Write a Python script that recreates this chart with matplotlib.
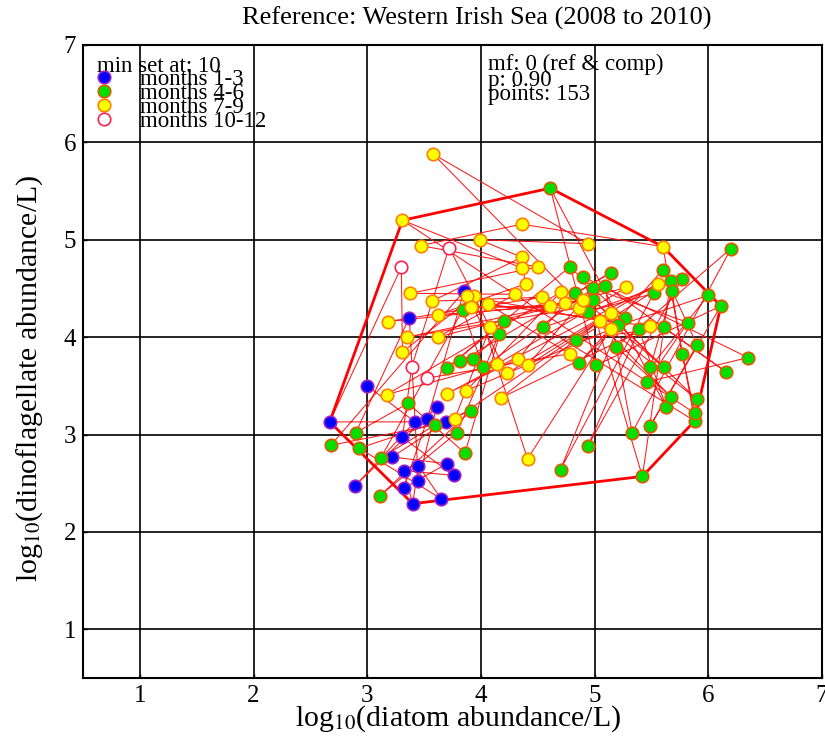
import numpy as np
import matplotlib
matplotlib.use("Agg")
import matplotlib.pyplot as plt

plt.rcParams['font.family'] = ['Liberation Serif', 'DejaVu Serif']
plt.rcParams['mathtext.fontset'] = 'stix'

# ---- data: log10 abundances in sampling order (2008 -> 2010) ----
diatom = [
    # 2008 months 1-3
    3.00, 3.42, 2.89, 3.61, 3.45, 3.37,
    # 2008 months 4-6
    2.90, 3.36, 3.86, 4.20, 3.70, 4.78, 5.27, 4.86, 5.60, 5.90, 5.49, 6.11, 5.01, 4.61,
    5.63, 5.39, 4.94, 5.77, 4.55, 5.88,
    # 2008 months 7-9
    5.60, 4.36, 3.47, 4.50, 3.38, 4.30, 3.62, 5.28, 4.14, 3.17, 4.70, 3.87, 5.14, 4.41, 3.94, 3.31,
    # 2008 months 10-12
    3.30,
    # 2009 months 1-3
    2.67, 3.69, 3.22, 3.70, 3.32, 3.53, 3.85,
    # 2009 months 4-6
    2.68, 3.60, 3.12, 3.84, 4.02, 4.99, 5.82, 5.46, 6.35, 4.90, 5.42, 5.67, 4.84, 5.61,
    6.16, 5.09, 5.33, 6.20, 5.19, 5.67,
    # 2009 months 7-9
    3.58, 4.94, 3.99, 4.36, 3.57, 4.54, 3.18, 4.74, 4.33, 3.70, 5.56, 4.23, 3.88, 5.05, 3.77, 4.08,
    # 2009 months 10-12
    3.72, 3.39,
    # 2010 months 1-3
    3.31, 3.76, 3.32, 3.40, 3.45, 3.65,
    # 2010 months 4-6
    2.93, 3.91, 3.11, 3.79, 4.16, 3.93, 3.82, 5.14, 4.83, 5.61, 4.99, 5.90, 4.94, 5.52,
    4.70, 5.21, 6.00, 5.49, 5.68, 5.77, 5.88,
    # 2010 months 7-9
    3.31, 4.36, 4.40, 3.62, 4.61, 3.91, 4.86, 3.35, 4.90, 4.41, 5.14, 4.18, 5.49, 4.06, 4.78,
    # 2010 months 10-12
    3.53,
]
dino = [
    # 2008 months 1-3
    3.50, 3.13, 2.47, 3.28, 2.52, 4.20,
    # 2008 months 4-6
    3.02, 3.32, 2.81, 4.17, 3.68, 4.72, 4.20, 3.73, 4.69, 3.92, 3.09, 4.32, 3.71, 5.53,
    3.28, 4.08, 2.88, 4.60, 4.10, 3.14,
    # 2008 months 7-9
    4.93, 5.16, 4.94, 4.72, 4.45, 4.44, 4.00, 4.51, 3.72, 3.41, 4.46, 3.45, 4.08, 2.75, 4.42, 3.85,
    # 2008 months 10-12
    4.72,
    # 2009 months 1-3
    3.13, 3.13, 2.77, 2.70, 2.45, 3.16, 4.47,
    # 2009 months 4-6
    2.89, 3.10, 2.76, 4.28, 3.69, 4.50, 4.15, 3.54, 3.79, 4.62, 2.57, 4.58, 3.97, 4.10,
    3.64, 4.53, 3.02, 4.91, 3.90, 3.39,
    # 2009 months 7-9
    5.88, 4.96, 5.00, 4.82, 4.37, 4.41, 4.16, 4.35, 3.78, 3.42, 4.55, 3.63, 4.42, 4.17, 3.16, 4.10,
    # 2009 months 10-12
    4.92, 3.69,
    # 2010 months 1-3
    2.97, 2.58, 2.63, 2.29, 2.68, 2.34,
    # 2010 months 4-6
    2.86, 3.24, 2.37, 3.02, 4.03, 3.78, 3.75, 4.66, 4.45, 3.69, 4.38, 3.36, 4.26, 4.45,
    2.64, 4.12, 4.43, 3.69, 4.47, 3.83, 3.22,
    # 2010 months 7-9
    5.20, 4.71, 4.55, 4.23, 4.32, 4.31, 4.30, 4.00, 4.38, 3.71, 4.25, 3.38, 4.11, 4.34, 3.83,
    # 2010 months 10-12
    3.58,
]
block_sizes = [6, 20, 16, 1, 7, 20, 16, 2, 6, 21, 15, 1]
block_group = [0, 1, 2, 3, 0, 1, 2, 3, 0, 1, 2, 3]
group_labels = ['months 1-3', 'months 4-6', 'months 7-9', 'months 10-12']

# 90% hull vertices
hull_x = [2.67, 3.31, 4.61, 5.60, 6.11, 5.88, 5.42, 3.40]
hull_y = [3.13, 5.20, 5.53, 4.93, 4.32, 3.14, 2.57, 2.29]

title = 'Reference: Western Irish Sea (2008 to 2010)'
info_lines = ['mf: 0 (ref & comp)', 'p: 0.90', 'points: 153']
ticks = [1, 2, 3, 4, 5, 6, 7]

# ---- figure ----
x = np.array(diatom)
y = np.array(dino)
season = np.repeat(block_group, block_sizes)

fig = plt.figure(figsize=(8.25, 7.4), dpi=100)
ax = fig.add_axes([83/825, 1-678/740, 739/825, 633/740])

ax.plot(x, y, color='#ff1a1a', lw=0.75, zorder=2)
ax.plot(hull_x + hull_x[:1], hull_y + hull_y[:1], color='#ff0000', lw=2.0, zorder=3)

styles = [dict(mfc='#0000ff', mec='#a020c0'),
          dict(mfc='#00e000', mec='#e05a00'),
          dict(mfc='#ffff00', mec='#ff8000'),
          dict(mfc='white', mec='#ff2050')]
handles = []
for g in range(4):
    m = season == g
    h, = ax.plot(x[m], y[m], ls='none', marker='o', ms=9, mew=1.2,
                 zorder=4, label=group_labels[g], **styles[g])
    handles.append(h)

ax.set_xlim(0.5, 7)
ax.set_ylim(0.5, 7)
ax.set_xticks(ticks)
ax.set_yticks(ticks)
ax.grid(True, color='black', lw=1.2)
ax.set_axisbelow(True)
for s in ax.spines.values():
    s.set_linewidth(1.5)
ax.tick_params(direction='in', length=3, width=1, labelsize=18, pad=5)

leg = ax.legend(handles=handles, loc='upper left', bbox_to_anchor=(0.019, 0.983),
                frameon=False, title='min set at: 10', alignment='left',
                borderpad=0, borderaxespad=0, handlelength=0.6, handletextpad=1.28,
                labelspacing=-0.32, fontsize=16.5, title_fontsize=16.5)

for i, t in enumerate(info_lines):
    ax.text(0.548, [0.970, 0.944, 0.922][i], t, transform=ax.transAxes,
            fontsize=16.5, ha='left', va='center')

ax.text(0.533, 1 + 27/633, title, transform=ax.transAxes, fontsize=19,
        ha='center', va='center')

ax.set_xlabel(r'log$_{10}$(diatom abundance/L)', fontsize=21.5, va='center')
ax.xaxis.set_label_coords(0.507, -41/633)
ax.set_ylabel(r'log$_{10}$(dinoflagellate abundance/L)', fontsize=21.5, va='center')
ax.yaxis.set_label_coords(-53/739, 0.474)

fig.savefig('out.png', dpi=100)
